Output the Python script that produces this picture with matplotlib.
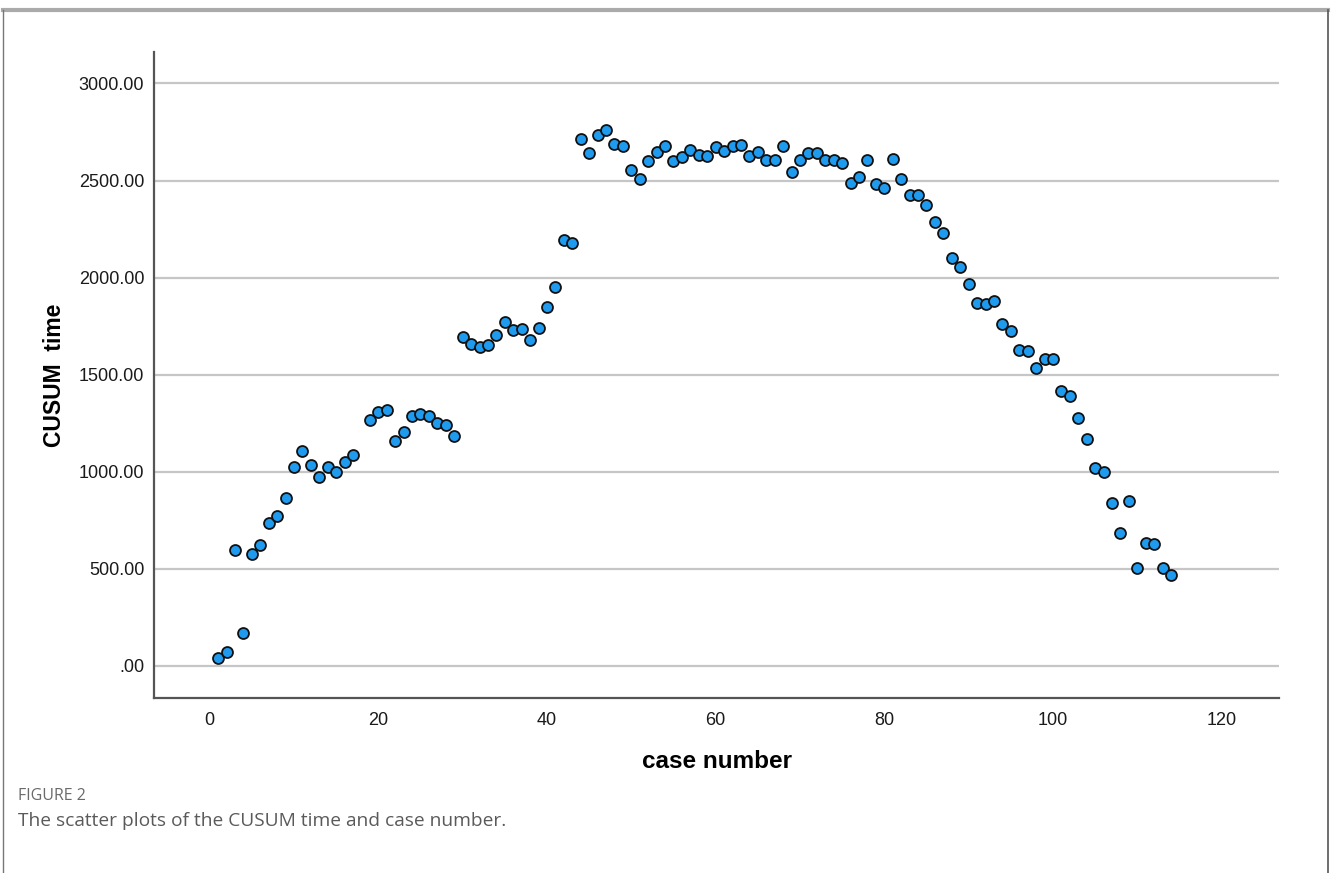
import matplotlib.pyplot as plt
from matplotlib.lines import Line2D

# case numbers (case 18 is absent from the series)
cases = list(range(1, 18)) + list(range(19, 115))
cusum_time = [
    40, 74, 598, 169, 577, 622, 735, 770, 864, 1024,
    1105, 1033, 971, 1024, 998, 1048, 1086,
    1265, 1307, 1320, 1160, 1204, 1289, 1299, 1285, 1251, 1239, 1182,
    1694, 1658, 1644, 1651, 1703, 1772, 1732, 1737, 1680, 1742,
    1847, 1952, 2195, 2180, 2716, 2643, 2735, 2759, 2686, 2677,
    2553, 2509, 2603, 2646, 2680, 2600, 2622, 2656, 2634, 2627,
    2672, 2651, 2680, 2684, 2624, 2646, 2608, 2607, 2680, 2543,
    2607, 2643, 2643, 2605, 2608, 2591, 2485, 2519, 2608, 2481,
    2464, 2613, 2509, 2424, 2424, 2373, 2289, 2230, 2100, 2055,
    1967, 1871, 1864, 1878, 1763, 1727, 1629, 1624, 1533, 1581,
    1581, 1414, 1392, 1275, 1169, 1022, 998, 839, 687, 851,
    507, 632, 627, 504, 466,
]

x_ticks = [0, 20, 40, 60, 80, 100, 120]
y_ticks = [0, 500, 1000, 1500, 2000, 2500, 3000]
y_tick_labels = ['.00', '500.00', '1000.00', '1500.00', '2000.00', '2500.00', '3000.00']

plt.rcParams['font.family'] = ['Liberation Sans', 'DejaVu Sans']

fig = plt.figure(figsize=(13.31, 8.73), dpi=100)
ax = fig.add_axes([154 / 1331, 1 - 698 / 873, (1279 - 154) / 1331, (698 - 52) / 873])

ax.set_xlim(-6.6, 126.8)
ax.set_ylim(-165, 3162)

for v in y_ticks:
    ax.axhline(v, color='#c6c6c6', linewidth=1.6, zorder=1)

ax.scatter(cases, cusum_time, s=62, facecolor='#1e9bef', edgecolor='#111111',
           linewidth=1.3, zorder=3)

ax.set_xticks(x_ticks)
ax.set_yticks(y_ticks)
ax.set_yticklabels(y_tick_labels)
ax.tick_params(length=0, labelsize=13, colors='#1a1a1a')
ax.tick_params(axis='x', pad=10)
ax.tick_params(axis='y', pad=7)

for side in ('top', 'right'):
    ax.spines[side].set_visible(False)
for side in ('left', 'bottom'):
    ax.spines[side].set_color('#555555')
    ax.spines[side].set_linewidth(1.6)

ax.set_xlabel('case number', fontsize=17.5, fontweight='bold', labelpad=15)
ax.set_ylabel('CUSUM  time', fontsize=16.5, fontweight='bold', labelpad=9)

# frame around the figure panel
fig.add_artist(Line2D([3 / 1331, 1328 / 1331], [1 - 10 / 873, 1 - 10 / 873],
                      transform=fig.transFigure, color='#aaaaaa', linewidth=3))
fig.add_artist(Line2D([3 / 1331, 3 / 1331], [0, 1 - 10 / 873],
                      transform=fig.transFigure, color='#777777', linewidth=1))
fig.add_artist(Line2D([1328 / 1331, 1328 / 1331], [0, 1 - 10 / 873],
                      transform=fig.transFigure, color='#555555', linewidth=1.2))

fig.text(18 / 1331, 1 - 796 / 873, 'FIGURE 2', fontsize=11.5, color='#6a6a6a',
         family=['Open Sans', 'DejaVu Sans'], va='center')
fig.text(18 / 1331, 1 - 821 / 873, 'The scatter plots of the CUSUM time and case number.',
         fontsize=13.8, color='#5a5a5a', family=['Open Sans', 'DejaVu Sans'], va='center')

fig.savefig('out.png', dpi=100)
